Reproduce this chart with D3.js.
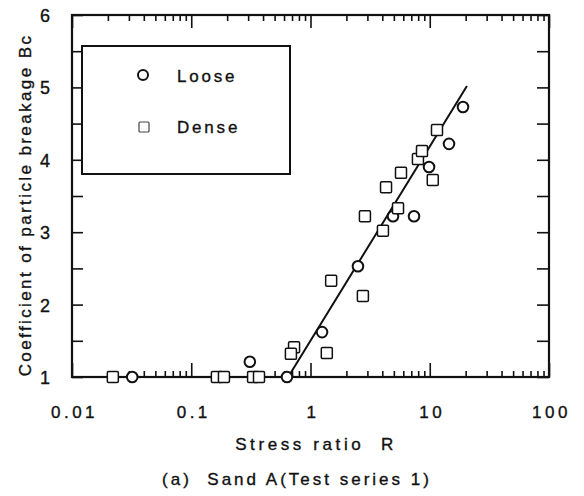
<!DOCTYPE html>
<html><head><meta charset="utf-8">
<script src="https://cdn.jsdelivr.net/npm/d3@7"></script>
<style>body{margin:0;background:#fff}svg{display:block}text{font-family:"Liberation Sans",Arial,sans-serif;fill:#111;stroke:#111;stroke-width:0.35px;white-space:pre}</style>
</head><body>
<script>
// Data
const looseR  = [0.032, 0.31, 0.635, 1.25, 2.50, 4.92, 7.38, 9.86, 14.5, 19.0];
const looseBc = [1.0,   1.21, 1.0,   1.62, 2.53, 3.22, 3.22, 3.90, 4.22, 4.73];
const denseR  = [0.022, 0.164, 0.188, 0.33, 0.37, 0.728, 0.685, 1.37, 1.49, 2.75, 2.86, 4.05, 4.30, 5.42, 5.74, 7.96, 8.61, 10.6, 11.5];
const denseBc = [1.0,   1.0,   1.0,   1.0,  1.0,  1.41,  1.32,  1.33, 2.33, 2.12, 3.22, 3.02, 3.62, 3.33, 3.82, 4.01, 4.12, 3.72, 4.41];
const fitR  = [0.01, 0.65, 20.5];
const fitBc = [1.0,  1.0,  5.02];
const xTickValues = [0.01, 0.1, 1, 10, 100];
const xTickLabels = ["0.01", "0.1", "1", "10", "100"];
const yTickValues = [1, 2, 3, 4, 5, 6];
const legendLabels = ["Loose", "Dense"];
const xTitle = "Stress ratio  R";
const yTitle = "Coefficient of particle breakage Bc";
const caption = "(a)  Sand A(Test series 1)";

const W = 584, H = 496;
const L = 72, R = 549, T = 15, B = 377;
const svg = d3.select("body").append("svg").attr("width", W).attr("height", H);
const x = d3.scaleLog().domain([0.01, 100]).range([L, R]);
const y = d3.scaleLinear().domain([1, 6]).range([B, T]);

// minor/major x ticks
const minorX = [];
for (let e = -2; e < 2; e++) for (let k = 2; k <= 9; k++) minorX.push(k * Math.pow(10, e));
const halfY = d3.range(1.5, 6, 1);

const axB = d3.axisBottom(x).tickValues(xTickValues).tickFormat((d, i) => xTickLabels[i]).tickSize(-14).tickPadding(20);
const gB = svg.append("g").attr("transform", `translate(0,${B})`).call(axB);
const gBm = svg.append("g").attr("transform", `translate(0,${B})`).call(d3.axisBottom(x).tickValues(minorX).tickSize(-6).tickFormat(""));
const gT = svg.append("g").attr("transform", `translate(0,${T})`).call(d3.axisTop(x).tickValues(xTickValues).tickSize(-13).tickFormat(""));
const gTm = svg.append("g").attr("transform", `translate(0,${T})`).call(d3.axisTop(x).tickValues(minorX).tickSize(-6).tickFormat(""));
const gL = svg.append("g").attr("transform", `translate(${L},0)`).call(d3.axisLeft(y).tickValues(yTickValues).tickFormat(d3.format("d")).tickSize(-11).tickPadding(22));
const gLm = svg.append("g").attr("transform", `translate(${L},0)`).call(d3.axisLeft(y).tickValues(halfY).tickSize(-11).tickFormat(""));
const gR = svg.append("g").attr("transform", `translate(${R},0)`).call(d3.axisRight(y).tickValues(yTickValues.concat(halfY)).tickSize(-12).tickFormat(""));
[gB, gBm, gT, gTm, gL, gLm, gR].forEach(g => {
  g.select(".domain").remove();
  g.selectAll(".tick line").attr("stroke", "#111").attr("stroke-width", 1.6);
});
gB.selectAll(".tick text").attr("font-size", 17).attr("letter-spacing", 3.5).attr("fill", "#111").attr("dx", 2).attr("dy", 0).attr("y", 41);
gL.selectAll(".tick text").attr("font-size", 18).attr("fill", "#111").attr("dy", "0.36em");

// frame
svg.append("rect").attr("x", L).attr("y", T).attr("width", R - L).attr("height", B - T)
  .attr("fill", "none").attr("stroke", "#111").attr("stroke-width", 2.2);

// fit line
const pts = fitR.map((r, i) => [r, fitBc[i]]);
svg.append("path").attr("d", d3.line().x(d => x(d[0])).y(d => y(d[1]))(pts))
  .attr("fill", "none").attr("stroke", "#111").attr("stroke-width", 2);

// markers
svg.append("g").selectAll("circle").data(looseR.map((r, i) => [r, looseBc[i]])).join("circle")
  .attr("cx", d => x(d[0])).attr("cy", d => y(d[1])).attr("r", 5.3)
  .attr("fill", "#fff").attr("stroke", "#111").attr("stroke-width", 2);
svg.append("g").selectAll("rect").data(denseR.map((r, i) => [r, denseBc[i]])).join("rect")
  .attr("x", d => x(d[0]) - 5.5).attr("y", d => y(d[1]) - 5.5).attr("width", 11).attr("height", 11).attr("rx", 1.2)
  .attr("fill", "#fff").attr("stroke", "#111").attr("stroke-width", 1.5);

// legend
svg.append("rect").attr("x", 82).attr("y", 46).attr("width", 208).attr("height", 128)
  .attr("fill", "#fff").attr("stroke", "#111").attr("stroke-width", 2);
svg.append("circle").attr("cx", 143).attr("cy", 75).attr("r", 5).attr("fill", "#fff").attr("stroke", "#111").attr("stroke-width", 2);
svg.append("rect").attr("x", 139).attr("y", 122).attr("width", 10).attr("height", 10).attr("rx", 1)
  .attr("fill", "#fff").attr("stroke", "#444").attr("stroke-width", 1.2);
svg.append("text").attr("x", 177).attr("y", 82).attr("font-size", 17).attr("letter-spacing", 2.8).text(legendLabels[0]);
svg.append("text").attr("x", 177).attr("y", 133).attr("font-size", 17).attr("letter-spacing", 2.8).text(legendLabels[1]);

// titles
svg.append("text").attr("x", 316).attr("y", 450).attr("text-anchor", "middle").attr("font-size", 17).attr("letter-spacing", 3.6).text(xTitle);
svg.append("text").attr("transform", "translate(31,205) rotate(-90)").attr("text-anchor", "middle")
  .attr("font-size", 17).attr("letter-spacing", 2.4).text(yTitle);
svg.append("text").attr("x", 297).attr("y", 485).attr("text-anchor", "middle").attr("font-size", 17).attr("letter-spacing", 3.0).text(caption);
</script>
</body></html>
